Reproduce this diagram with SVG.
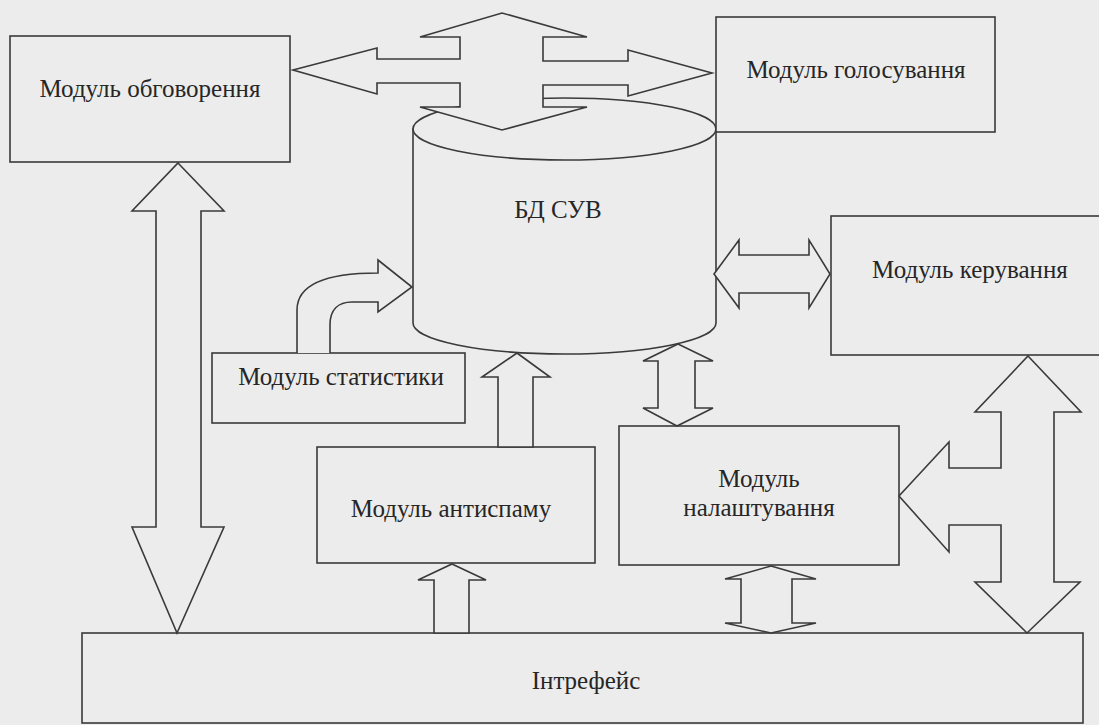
<svg xmlns="http://www.w3.org/2000/svg" width="1099" height="725" viewBox="0 0 1099 725">
<style>
.bg{fill:#ececec}
.n{fill:#ececec;stroke:#3a3a3a;stroke-width:1.6}
.c{fill:#ececec;stroke:#3a3a3a;stroke-width:1.6;stroke-linejoin:miter}
.t{font-family:"Liberation Serif","Times New Roman",serif;font-size:25px;fill:#262626;text-anchor:middle}
</style>
<rect class="bg" x="0" y="0" width="1099" height="725"/>
<g id="bd">
<path class="n" d="M413,129 L413,323 A151.5,31 0 0 0 716,323 L716,129 Z"/>
<ellipse class="n" cx="564.5" cy="129" rx="151.5" ry="31"/>
<text class="t" x="558" y="218">БД СУВ</text>
</g>
<g id="obgovorennya">
<rect class="n" x="10" y="36" width="280" height="126"/>
<text class="t" x="150" y="97">Модуль обговорення</text>
</g>
<g id="holosuvannya">
<rect class="n" x="716" y="17" width="279" height="115"/>
<text class="t" x="856" y="78">Модуль голосування</text>
</g>
<g id="keruvannya">
<rect class="n" x="831" y="216" width="280" height="139"/>
<text class="t" x="970" y="278">Модуль керування</text>
</g>
<g id="statystyky">
<rect class="n" x="212" y="353" width="253" height="70"/>
<text class="t" x="341" y="385">Модуль статистики</text>
</g>
<g id="antyspamu">
<rect class="n" x="317" y="447" width="278" height="116"/>
<text class="t" x="451" y="517">Модуль антиспаму</text>
</g>
<g id="nalashtuvannya">
<rect class="n" x="619" y="426" width="280" height="139"/>
<text class="t" x="759" y="487">Модуль</text>
<text class="t" x="759" y="516">налаштування</text>
</g>
<g id="interfeys">
<rect class="n" x="82" y="633" width="1001" height="90"/>
<text class="t" x="586" y="689">Інтрефейс</text>
</g>
<g id="connectors">
<polygon class="c" points="293,70 377,48 377,59 460,59 460,37 420,37 502,13 587,37 543,37 543,61 628,61 628,50 712,73 628,96 628,85 543,85 543,107 587,107 502,130 420,107 460,107 460,83 377,83 377,94"/>
<polygon class="c" points="178,163 224,211 201,211 201,527 224,527 177,633 132,527 156,527 156,211 132,211"/>
<path class="c" d="M297,353 L297,310 C297,287 320,273 378,273 L378,260 L412,287 L378,312 L378,302 L352,302 C338,302 330,310 330,325 L330,353"/>
<polygon class="c" points="714,274 739,240 739,255 809,255 809,240 830,274 809,308 809,293 739,293 739,308"/>
<polygon class="c" points="517,353 550,377 533,377 533,447 498,447 498,377 482,377"/>
<polygon class="c" points="452,564 486,580 469,580 469,633 434,633 434,580 418,580"/>
<polygon class="c" points="678,344 713,361 695,361 695,408 713,408 677,426 643,408 658,408 658,361 643,361"/>
<polygon class="c" points="771,566 816,579 792,579 792,623 816,623 771,633 725,623 741,623 741,579 725,579"/>
<polygon class="c" points="1028,356 1081,412 1054,412 1054,582 1080,582 1027,633 975,582 1001,582 1001,525 949,525 949,552 899,496 949,442 949,468 1001,468 1001,412 975,412"/>
</g>
</svg>
